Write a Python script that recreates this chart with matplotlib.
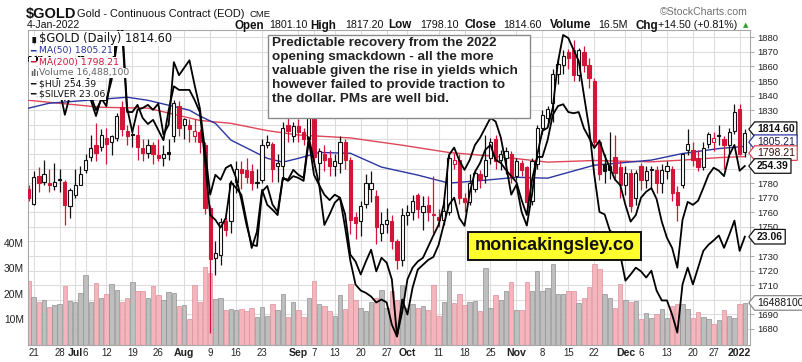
import matplotlib
matplotlib.use('Agg')
import matplotlib.pyplot as plt
from matplotlib.patches import Rectangle
from matplotlib.path import Path
from matplotlib.transforms import blended_transform_factory as blend
import numpy as np
import pandas as pd

W, H = 803, 362

# trading days shown (CME holidays removed)
holidays = ['2021-07-05', '2021-09-06', '2021-11-25', '2021-12-24']
days = pd.bdate_range('2021-06-18', '2022-01-04')
days = days[~days.isin(pd.to_datetime(holidays))]

opens = [1776, 1766, 1785, 1781, 1780, 1778, 1782, 1781, 1764, 1772,
         1779, 1789, 1798, 1806, 1805, 1811, 1808, 1811, 1832, 1816,
         1813, 1813, 1804, 1801, 1806, 1799, 1797, 1801, 1812, 1833,
         1820, 1820, 1812, 1815, 1806, 1763, 1729, 1731, 1754, 1754,
         1781, 1790, 1789, 1788, 1780, 1782, 1806, 1807, 1792, 1792,
         1820, 1812, 1819, 1815, 1810, 1831, 1794, 1800, 1797, 1792,
         1794, 1808, 1796, 1757, 1754, 1766, 1776, 1771, 1746, 1752,
         1754, 1740, 1727, 1758, 1760, 1772, 1760, 1765, 1759, 1757,
         1755, 1760, 1793, 1796, 1770, 1767, 1776, 1786, 1785, 1797,
         1810, 1796, 1797, 1800, 1785, 1794, 1791, 1768, 1793, 1818,
         1825, 1835, 1855, 1861, 1870, 1871, 1854, 1870, 1861, 1850,
         1808, 1793, 1792, 1798, 1791, 1779, 1787, 1770, 1792, 1782,
         1790, 1789, 1780, 1788, 1790, 1774, 1779, 1803, 1803, 1797,
         1791, 1807, 1808, 1813, 1810, 1806, 1816, 1831, 1801.1]
highs = [1779, 1788, 1791, 1796, 1790, 1794, 1790, 1782, 1777, 1790,
         1792, 1800, 1813, 1821, 1817, 1818, 1813, 1828, 1836, 1820,
         1816, 1820, 1810, 1810, 1808, 1810, 1806, 1810, 1837, 1836,
         1825, 1824, 1824, 1817, 1808, 1765, 1740, 1756, 1757, 1782,
         1795, 1795, 1797, 1793, 1790, 1810, 1813, 1808, 1800, 1822,
         1825, 1822, 1824, 1818, 1837, 1833, 1804, 1806, 1803, 1800,
         1812, 1810, 1798, 1760, 1768, 1786, 1788, 1775, 1760, 1763,
         1758, 1742, 1763, 1765, 1772, 1773, 1771, 1771, 1785, 1762,
         1768, 1799, 1801, 1800, 1773, 1786, 1790, 1789, 1813, 1811,
         1813, 1803, 1805, 1802, 1797, 1796, 1792, 1797, 1820, 1830,
         1833, 1858, 1866, 1871, 1872, 1878, 1873, 1874, 1866, 1852,
         1810, 1800, 1815, 1813, 1795, 1792, 1790, 1789, 1794, 1792,
         1792, 1792, 1793, 1795, 1792, 1778, 1801, 1817, 1808, 1803,
         1808, 1815, 1815, 1820, 1812, 1818, 1834, 1834, 1817.2]
lows = [1768, 1765, 1774, 1779, 1774, 1775, 1774, 1751, 1756, 1770,
        1779, 1787, 1795, 1795, 1802, 1793, 1799, 1809, 1812, 1806,
        1805, 1796, 1795, 1797, 1793, 1795, 1792, 1796, 1808, 1812,
        1810, 1808, 1808, 1801, 1759, 1677, 1717, 1724, 1744, 1746,
        1773, 1776, 1780, 1775, 1777, 1780, 1804, 1781, 1781, 1782,
        1808, 1808, 1808, 1806, 1807, 1792, 1782, 1788, 1785, 1785,
        1787, 1790, 1745, 1742, 1744, 1763, 1767, 1738, 1740, 1746,
        1735, 1721, 1723, 1751, 1755, 1756, 1748, 1754, 1746, 1750,
        1751, 1758, 1790, 1766, 1760, 1765, 1774, 1777, 1780, 1793,
        1790, 1789, 1786, 1780, 1782, 1785, 1760, 1765, 1790, 1814,
        1820, 1822, 1848, 1855, 1858, 1850, 1850, 1856, 1845, 1804,
        1782, 1780, 1783, 1783, 1770, 1772, 1760, 1765, 1775, 1777,
        1777, 1773, 1773, 1783, 1768, 1754, 1777, 1799, 1792, 1788,
        1789, 1804, 1802, 1806, 1790, 1800, 1814, 1799, 1798.1]
closes = [1770, 1784, 1780, 1786, 1779, 1781, 1782, 1765, 1775, 1779,
          1786, 1796, 1804, 1801, 1813, 1807, 1812, 1826, 1817, 1812,
          1813, 1805, 1801, 1806, 1800, 1797, 1800, 1800, 1835, 1818,
          1824, 1817, 1816, 1808, 1763, 1728, 1732, 1753, 1748, 1780,
          1790, 1787, 1784, 1780, 1781, 1806, 1808, 1790, 1794, 1818,
          1816, 1819, 1815, 1810, 1833, 1798, 1802, 1796, 1792, 1795,
          1808, 1796, 1755, 1753, 1764, 1780, 1780, 1750, 1752, 1755,
          1740, 1727, 1758, 1760, 1768, 1762, 1764, 1760, 1758, 1755,
          1761, 1797, 1796, 1770, 1767, 1780, 1787, 1783, 1796, 1808,
          1795, 1800, 1802, 1784, 1795, 1789, 1767, 1795, 1818, 1827,
          1831, 1855, 1862, 1867, 1866, 1854, 1871, 1861, 1852, 1808,
          1786, 1788, 1789, 1787, 1779, 1787, 1764, 1787, 1782, 1788,
          1789, 1780, 1789, 1792, 1773, 1765, 1800, 1807, 1796, 1791,
          1804, 1814, 1811, 1812, 1806, 1815, 1829, 1800, 1814.6]
prev_close = 1775.0  # close before the first day, colours the first candle

volume_m = [25, 18.8, 16.9, 17.5, 15, 15.7, 16.2, 23, 17.3, 16.7,
            20.5, 27.4, 16.7, 24.2, 18.4, 20, 23.8, 21.7, 16.9, 18.4,
            24.7, 21.3, 21.3, 18.5, 23, 19.7, 17.5, 20.7, 20.3, 15.3,
            15.6, 10.2, 23.5, 16.8, 30.6, 28.4, 18.1, 18.4, 13.6, 14.3,
            13.6, 14.3, 13.3, 14.6, 10.8, 15, 11.4, 16, 13.6, 20,
            10.8, 16.8, 13.9, 11, 18.5, 25, 16, 15.4, 13.4, 11.2,
            19.6, 14, 24, 17.6, 14.6, 13.4, 17, 18.3, 21.6, 14.5,
            21, 17.6, 23.4, 14.6, 16.2, 14.6, 15.4, 13.7, 23.4, 11.3,
            17, 29, 16.3, 20, 15.6, 16.8, 17.4, 13.4, 30, 14.7,
            19.6, 17.8, 21.2, 24.6, 13.7, 13.7, 24.6, 21.2, 29, 21,
            22.3, 31.6, 19.9, 19.9, 21.2, 21.2, 16.6, 18.6, 22.7, 31.6,
            29.7, 20.1, 18.6, 14.6, 23.8, 17.6, 17, 17.3, 10.1, 12.7,
            10.5, 12.3, 14.2, 10.5, 15.3, 16, 16.2, 14, 10.5, 13.1,
            11, 10.1, 8.4, 9.7, 13.6, 11.4, 10.5, 16.2, 16.49]

hui = [272.0, 271.5, 272.6, 271.8, 272.3, 271.0, 268.0, 265.4, 267.9, 271.5,
       273.0, 272.0, 266.2, 263.7, 265.4, 265.4, 268.7, 274.6, 277.1, 263.4,
       263.4, 264.6, 262.4, 261.4, 262.1, 260.4, 258.7, 263.7, 267.7, 267.1,
       267.1, 267.1, 265.4, 263.4, 255.4, 246.2, 245.4, 244.1, 245.7, 251.7,
       250.7, 249.6, 245.2, 240.7, 243.4, 250.4, 247.9, 247.1, 246.2, 252.4,
       251.9, 252.7, 252.4, 251.9, 258.7, 252.9, 251.2, 249.6, 248.7, 249.6,
       249.1, 244.1, 238.6, 234.6, 233.6, 233.2, 232.6, 231.6, 232.1, 231.6,
       227.9, 225.9, 232.1, 229.6, 234.1, 237.1, 237.9, 238.7, 239.2, 241.2,
       244.6, 247.9, 249.1, 245.7, 244.4, 249.9, 253.4, 254.9, 257.1, 257.9,
       255.4, 254.9, 253.7, 252.7, 251.7, 248.7, 246.2, 252.1, 255.9, 255.9,
       258.7, 262.9, 264.4, 264.7, 263.4, 263.2, 263.4, 260.7, 259.1, 257.4,
       258.6, 256.1, 254.1, 252.1, 251.2, 247.9, 245.1, 246.2, 249.1, 250.1,
       250.7, 248.9, 245.1, 242.4, 240.7, 237.4, 245.4, 248.4, 247.9, 248.6,
       250.7, 252.9, 254.1, 253.6, 252.7, 256.2, 257.9, 253.6, 254.39]
silver = [25.95, 26.02, 25.90, 26.05, 25.98, 25.85, 25.43, 25.03, 25.35, 25.80,
          26.05, 25.90, 25.27, 25.01, 25.30, 25.17, 25.75, 26.32, 26.56, 25.14,
          24.75, 25.11, 25.14, 25.19, 25.11, 25.21, 24.71, 24.87, 25.88, 25.67,
          25.79, 25.91, 25.51, 25.14, 24.46, 23.74, 24.06, 23.98, 24.17, 24.22,
          24.01, 23.66, 23.25, 22.93, 22.91, 23.79, 23.88, 23.58, 23.46, 24.01,
          23.98, 24.14, 24.06, 24.01, 24.67, 24.27, 23.90, 23.25, 23.42, 23.61,
          23.69, 23.42, 22.77, 22.66, 22.45, 22.66, 22.85, 22.50, 22.72, 22.64,
          22.37, 21.46, 21.85, 22.37, 22.56, 22.66, 22.72, 22.90, 23.08, 23.25,
          23.58, 24.38, 24.50, 24.29, 24.14, 24.30, 24.54, 24.66, 24.82, 24.98,
          24.92, 24.66, 24.22, 23.74, 23.90, 23.46, 23.24, 23.74, 24.38, 24.77,
          24.82, 25.14, 25.88, 26.32, 26.27, 26.08, 25.90, 25.35, 24.82, 24.06,
          23.46, 23.42, 23.16, 23.08, 22.77, 22.35, 22.45, 22.56, 22.50, 22.40,
          22.51, 22.19, 22.03, 22.03, 21.80, 21.51, 22.29, 22.56, 22.29, 22.56,
          22.83, 22.93, 23.00, 23.08, 22.88, 23.09, 23.32, 22.83, 23.06]

ma50_dates = ['2021-06-18', '2021-06-24', '2021-07-09', '2021-07-16', '2021-07-22',
              '2021-08-03', '2021-08-05', '2021-08-10', '2021-08-13', '2021-08-24',
              '2021-08-27', '2021-09-01', '2021-09-08', '2021-09-16', '2021-09-24',
              '2021-10-05', '2021-10-13', '2021-10-22', '2021-11-01', '2021-11-09',
              '2021-11-22', '2021-11-29', '2021-12-08', '2021-12-16', '2021-12-28',
              '2022-01-04']
ma50 = [1831.4, 1834.8, 1837.5, 1838.9, 1836.8, 1830, 1826, 1821, 1809.5, 1797,
        1794.4, 1797, 1801, 1800.5, 1791, 1785.5, 1780, 1782, 1784, 1783.4,
        1792.3, 1793.5, 1795.8, 1800.3, 1803.7, 1805.21]
ma200_dates = ['2021-06-18', '2021-07-09', '2021-07-22', '2021-08-05', '2021-08-13',
               '2021-08-24', '2021-09-01', '2021-09-16', '2021-09-30', '2021-10-13',
               '2021-10-27', '2021-11-09', '2021-11-22', '2021-12-08', '2021-12-16',
               '2021-12-28', '2022-01-04']
ma200 = [1836.8, 1832, 1831.4, 1823, 1821, 1816, 1813, 1811, 1806, 1801,
         1798, 1794.4, 1795.5, 1794.6, 1795.8, 1797.5, 1798.21]

tick_dates = ['2021-06-21', '2021-06-28', '2021-07-01', '2021-07-06', '2021-07-12',
              '2021-07-19', '2021-07-26', '2021-08-02', '2021-08-09', '2021-08-16',
              '2021-08-23', '2021-09-01', '2021-09-07', '2021-09-13', '2021-09-20',
              '2021-09-27', '2021-10-01', '2021-10-11', '2021-10-18', '2021-10-25',
              '2021-11-01', '2021-11-08', '2021-11-15', '2021-11-22', '2021-12-01',
              '2021-12-06', '2021-12-13', '2021-12-20', '2021-12-27', '2022-01-03']
tick_labels = ['21', '28', 'Jul', '6', '12', '19', '26', 'Aug', '9', '16',
               '23', 'Sep', '7', '13', '20', '27', 'Oct', '11', '18', '25',
               'Nov', '8', '15', '22', 'Dec', '6', '13', '20', '27', '2022']
bold_labels = {'Jul', 'Aug', 'Sep', 'Oct', 'Nov', 'Dec', '2022'}

price_ticks = list(range(1680, 1881, 10))
hidden_price_labels = {1810, 1800, 1790, 1740, 1700}   # sit under the value tags

assert len(days) == len(closes) == len(volume_m) == len(hui) == len(silver)

RED = '#d3153a'
BLUE = '#2b35a3'
MA_RED = '#e04658'
GRID = '#dddddd'


def fx(px):
    return px / W


def fy(py):
    return 1 - py / H


plt.rcParams['font.family'] = ['Liberation Sans', 'DejaVu Sans']

fig = plt.figure(figsize=(W / 100, H / 100), dpi=100)
rect = [fx(28), fy(345), fx(750) - fx(28), fy(30) - fy(345)]

ax_vol = fig.add_axes(rect, zorder=0)
ax = fig.add_axes(rect, sharex=ax_vol, zorder=1)
ax_hui = fig.add_axes(rect, sharex=ax_vol, zorder=2)
ax_slv = fig.add_axes(rect, sharex=ax_vol, zorder=3)
for a in (ax, ax_hui, ax_slv):
    a.patch.set_visible(False)
    for s in a.spines.values():
        s.set_visible(False)
    a.tick_params(axis='x', bottom=False, labelbottom=False)
for s in ax_vol.spines.values():
    s.set_color('#a8a8a8')
    s.set_linewidth(0.8)

x = np.arange(len(days))
o, h, l, c = (np.array(v, dtype=float) for v in (opens, highs, lows, closes))
prev = np.r_[prev_close, c[:-1]]
down = c < prev

ax.set_ylim(1669, 1885)
ax_hui.set_ylim(224.5, 277.1)
ax_slv.set_ylim(21.31, 26.40)
ax_vol.set_ylim(0, 123.5)
ax_vol.set_xlim(-0.1, 139.0)

# grid
tick_x = days.get_indexer(pd.to_datetime(tick_dates))
ax_vol.vlines(tick_x, 0, 1, transform=blend(ax_vol.transData, ax_vol.transAxes),
              color=GRID, lw=0.8, zorder=0)
ax_vol.hlines(price_ticks, 0, 1, transform=blend(ax_vol.transAxes, ax.transData),
              color=GRID, lw=0.8, zorder=0)

# volume
vol_fill = np.where(down, '#f4b5bc', '#bebebe')
vol_edge = np.where(down, '#dc919b', '#909090')
ax_vol.bar(x, volume_m, width=0.86, color=vol_fill, edgecolor=vol_edge, linewidth=0.5, zorder=2)
ax_vol.set_yticks([10, 20, 30, 40])
ax_vol.set_yticklabels(['10M', '20M', '30M', '40M'])
ax_vol.tick_params(axis='y', length=0, labelsize=7.4, pad=3, colors='#222222')
ax_vol.set_xticks(tick_x)
ax_vol.set_xticklabels(tick_labels)
for t in ax_vol.get_xticklabels():
    if t.get_text() in bold_labels:
        t.set_fontweight('bold')
        t.set_fontsize(7.6)
    else:
        t.set_fontsize(6.9)
ax_vol.tick_params(axis='x', length=0, pad=2, colors='#222222')

# price axis on the right
ax.yaxis.tick_right()
ax.set_yticks(price_ticks)
ax.set_yticklabels(['' if p in hidden_price_labels else str(p) for p in price_ticks])
ax.tick_params(axis='y', length=3, width=0.6, color='#999999', labelsize=6.8, pad=2,
               labelcolor='#222222')
for a in (ax_hui, ax_slv):
    a.set_yticks([])

# moving averages
ax.plot(days.get_indexer(pd.to_datetime(ma200_dates)), ma200, color=MA_RED, lw=1.0, zorder=2)
ax.plot(days.get_indexer(pd.to_datetime(ma50_dates)), ma50, color=BLUE, lw=1.0, zorder=2)

# candles
edge = np.where(down, RED, '#111111')
fill = np.where(c > o, 'white', edge)
ax.vlines(x, l, h, colors=edge, linewidth=0.9, zorder=3)
ax.bar(x, np.maximum(np.abs(c - o), 0.7), bottom=np.minimum(o, c), width=0.62,
       color=fill, edgecolor=edge, linewidth=0.8, zorder=4)

# overlays
ax_hui.plot(x, hui, color='black', lw=1.3)
ax_slv.plot(x, silver, color='black', lw=1.3)


# right-hand value tags
def tag_box(x0, y0, width, height, mutation_size):
    pad = 0.22 * mutation_size
    xa, ya = x0 - pad, y0 - pad
    xb, yb = x0 + width + pad, y0 + height + pad
    tip = 0.4 * (yb - ya)
    return Path([(xa, ya), (xb, ya), (xb, yb), (xa, yb), (xa - tip, (ya + yb) / 2), (xa, ya)],
                closed=True)


def tag(y_transform, y, text, ec, tc, weight='normal', dy=0.0):
    ax_slv.annotate(text, xy=(1.0, y), xycoords=blend(ax_slv.transAxes, y_transform),
                    xytext=(5, dy), textcoords='offset points', ha='left', va='center',
                    fontsize=7.5, color=tc, fontweight=weight, annotation_clip=False, zorder=20,
                    bbox=dict(boxstyle=tag_box, fc='white', ec=ec, lw=0.9))


tag(ax.transData, closes[-1], f'{closes[-1]:.2f}', '#111111', '#111111', 'bold', 2.5)
tag(ax.transData, ma50[-1], f'{ma50[-1]:.2f}', BLUE, '#1c1c50', 'normal', 3.0)
tag(ax.transData, ma200[-1], f'{ma200[-1]:.2f}', MA_RED, '#3a1010', 'normal', 2.5)
tag(ax_hui.transData, hui[-1], f'{hui[-1]:.2f}', '#111111', '#111111', 'bold')
tag(ax_slv.transData, silver[-1], f'{silver[-1]:.2f}', '#111111', '#111111', 'bold')
tag(ax_vol.transData, volume_m[-1], '16488100', '#888888', '#111111')

# legend block (top-left); each row sits on a white strip like the original
lg = ['DejaVu Sans']
strip = dict(fc='white', ec='none', pad=0.6)
fig.text(fx(29.5), fy(41.5), '\u2590\u258c', fontsize=4.5, color='#111111', family=lg,
         bbox=dict(fc='white', ec='none', pad=0.2), zorder=6)
fig.text(fx(39), fy(42), '$GOLD (Daily) 1814.60', fontsize=8.3, color='#111111', family=lg,
         bbox=strip, zorder=6)
legend_rows = [('MA(50) 1805.21', BLUE, '\u2501', 53.5),
               ('MA(200) 1798.21', RED, '\u2501', 65),
               ('Volume 16,488,100', '#666666', '\u0131l\u0131', 75.5),
               ('$HUI 254.39', '#111111', '\u2501', 86.5),
               ('$SILVER 23.06', '#111111', '\u2501', 97)]
for text, col, icon, py in legend_rows:
    fig.text(fx(30), fy(py), icon, fontsize=6.5, color=col, family=lg, bbox=strip, zorder=6,
             fontweight='bold' if icon.startswith('\u0131') else 'normal')
    fig.text(fx(39), fy(py), text, fontsize=6.7, color=col, family=lg, bbox=strip, zorder=6)

# header
fig.text(fx(26), fy(18), '$GOLD', fontsize=10.5, fontweight='bold', color='#111111')
fig.text(fx(77), fy(17), 'Gold - Continuous Contract (EOD)', fontsize=7.9, color='#111111')
fig.text(fx(250), fy(17), 'CME', fontsize=6.8, color='#111111')
fig.text(fx(27), fy(28.5), '4-Jan-2022', fontsize=7.6, color='#111111')
header = [(235, 'Open', True), (269, '1801.10', False), (310, 'High', True),
          (345, '1817.20', False), (388, 'Low', True), (420, '1798.10', False),
          (465, 'Close', True), (503, '1814.60', False), (550, 'Volume', True),
          (598, '16.5M', False), (635, 'Chg', True), (658, '+14.50 (+0.81%)', False)]
for px, text, bold in header:
    fig.text(fx(px), fy(28.5), text, fontsize=8.4 if bold else 7.7,
             fontweight='bold' if bold else 'normal', color='#111111')
fig.text(fx(743), fy(27.5), '\u25b2', fontsize=5, color='#2ca02c', family=lg)
fig.text(fx(660), fy(15), '\u00a9StockCharts.com', fontsize=7.6, color='#707070')

# comment box
fig.add_artist(Rectangle((fx(268), fy(118)), fx(530) - fx(268), fy(35) - fy(118),
                         transform=fig.transFigure, fc='white', ec='#8a8a8a', lw=1.0, zorder=10))
fig.text(fx(272), fy(37),
         'Predictable recovery from the 2022\n'
         'opening smackdown - all the more\n'
         'valuable given the rise in yields which\n'
         'however failed to provide traction to\n'
         'the dollar. PMs are well bid.',
         fontsize=9.7, fontweight='bold', color='#222222', va='top', ha='left',
         linespacing=1.22, zorder=11)

# site banner
fig.add_artist(Rectangle((fx(468), fy(260)), fx(641) - fx(468), fy(232) - fy(260),
                         transform=fig.transFigure, fc='#ffff2e', ec='#111111', lw=1.4, zorder=10))
fig.text(fx(554.5), fy(246), 'monicakingsley.co', fontsize=13, fontweight='bold',
         color='#111111', ha='center', va='center', zorder=11)

fig.savefig('out.png', dpi=100)
